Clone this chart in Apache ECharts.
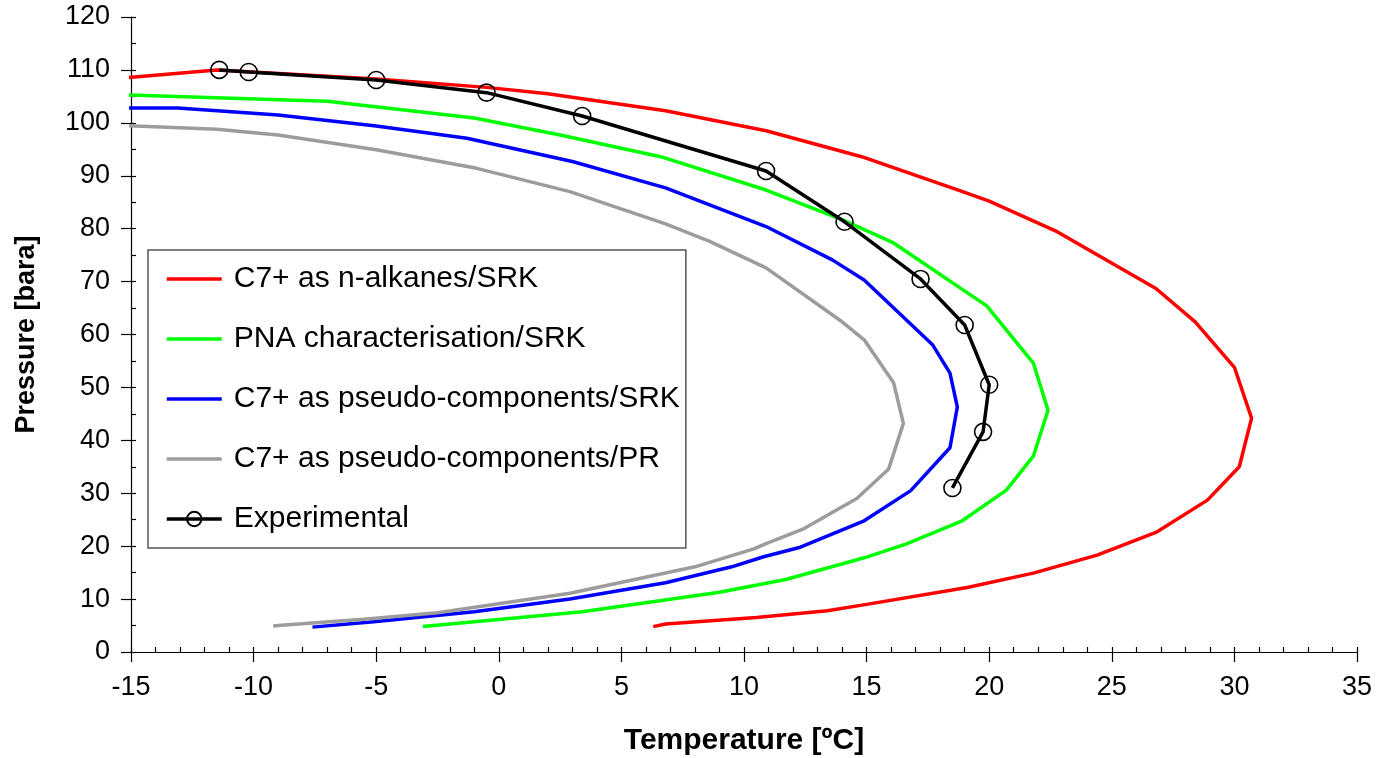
<!DOCTYPE html>
<html>
<head>
<meta charset="utf-8">
<script src="https://cdn.jsdelivr.net/npm/echarts@6/dist/echarts.min.js"></script>
<style>
  html, body { margin: 0; padding: 0; background: #fff; }
  #chart { width: 1380px; height: 758px; }
</style>
</head>
<body>
<div id="chart"></div>
<script>
// phase envelope, temperature [C] vs pressure [bara]
const seriesNames = [
  "C7+ as n-alkanes/SRK",
  "PNA characterisation/SRK",
  "C7+ as pseudo-components/SRK",
  "C7+ as pseudo-components/PR",
  "Experimental"
];

const alkanesSRK = [
  [-15.3, 108.5], [-11.5, 110], [-5, 108.3], [-0.5, 106.7], [2, 105.5], [6.8, 102.3],
  [10.9, 98.5], [14.8, 93.6], [18.8, 87.2], [20, 85.2], [22.7, 79.6], [26.8, 68.7],
  [28.4, 62.4], [30, 53.8], [30.7, 44.2], [30.2, 35], [28.9, 28.7], [26.8, 22.6],
  [24.4, 18.3], [21.8, 14.9], [19.1, 12.2], [15, 9.0], [13.4, 7.8], [10.5, 6.5],
  [6.8, 5.3], [6.3, 4.8]
];

const pnaSRK = [
  [-15.3, 105.3], [-7, 104.1], [-1, 100.9], [2.5, 97.7], [6.6, 93.6], [10.9, 87.3],
  [14, 81.7], [16.1, 77.3], [19.9, 65.4], [21.8, 54.6], [22.4, 45.7], [21.8, 37],
  [20.7, 30.6], [18.9, 24.8], [16.6, 20.4], [14.9, 17.8], [11.7, 13.7], [9, 11.3],
  [3.4, 7.6], [-1, 5.7], [-3.1, 4.8]
];

const pseudoSRK = [
  [-15.3, 102.8], [-13.1, 102.8], [-9, 101.5], [-5, 99.4], [-1.3, 97.1], [3, 92.7],
  [6.8, 87.7], [10.9, 80.4], [13.6, 74.1], [14.9, 70.3], [17.7, 58], [18.4, 52.7],
  [18.7, 46.3], [18.4, 38.6], [16.8, 30.5], [14.9, 24.8], [12.3, 19.8], [10.8, 18],
  [9.5, 16.1], [6.8, 13.1], [2.9, 10], [-1, 7.6], [-5.1, 5.7], [-7.6, 4.7]
];

const pseudoPR = [
  [-15.3, 99.5], [-11.5, 98.8], [-9, 97.7], [-5, 94.9], [-0.9, 91.4], [2.9, 87],
  [6.8, 80.9], [8.6, 77.6], [10.9, 72.6], [14, 62.4], [14.9, 59], [16.1, 50.9],
  [16.5, 43.2], [15.9, 34.6], [14.6, 29], [12.4, 23.2], [10.9, 20.5], [10.4, 19.5],
  [8, 16.1], [2.9, 11.1], [-2.5, 7.4], [-5.5, 6.2], [-9, 5.0], [-9.2, 4.9]
];

const experimental = [
  [-11.4, 110.0], [-10.2, 109.6], [-5.0, 108.1], [-0.5, 105.7], [3.4, 101.3],
  [10.9, 90.9], [14.1, 81.3], [17.2, 70.5], [19.0, 61.8], [20.0, 50.5],
  [19.75, 41.6], [18.5, 31.0]
];

const lineColors = ["#ff0000", "#00ff00", "#0000ff", "#9c9c9c", "#000000"];
const curves = [alkanesSRK, pnaSRK, pseudoSRK, pseudoPR];

const font = 'Arial, "Liberation Sans", sans-serif';

const chart = echarts.init(document.getElementById("chart"));

const calcSeries = curves.map((data, i) => ({
  name: seriesNames[i],
  type: "line",
  data: data,
  symbol: "none",
  clip: false,
  lineStyle: { color: lineColors[i], width: 3.5 },
  itemStyle: { color: lineColors[i] },
  z: 2 + i
}));

const expSeries = {
  name: seriesNames[4],
  type: "line",
  data: experimental,
  symbol: "circle",
  symbolSize: 17,
  showAllSymbol: true,
  lineStyle: { color: "#000", width: 3.5 },
  itemStyle: { color: "rgba(0,0,0,0)", borderColor: "#000", borderWidth: 1.6 },
  z: 10
};

// legend: plain line for calculated curves, line + circle for experimental
const legendData = seriesNames.map((name, i) =>
  i < 4 ? { name: name, itemStyle: { opacity: 0 } } : { name: name }
);

// second (overlay) axes draw the inner halves of the ticks
const xBase = { type: "value", min: -15, max: 35, interval: 5 };
const yBase = { type: "value", min: 0, max: 120, interval: 10 };
const tickLine = { color: "#000", width: 1.2 };

const option = {
  animation: false,
  backgroundColor: "#fff",
  textStyle: { fontFamily: font, color: "#000" },
  grid: { left: 131, right: 23, top: 17, bottom: 106, outerBoundsMode: "none", containLabel: false },
  legend: {
    orient: "vertical",
    left: 148,
    top: 250,
    data: legendData,
    itemWidth: 55,
    itemHeight: 18,
    itemGap: 30,
    padding: [14, 6, 14, 17],
    backgroundColor: "#fff",
    borderColor: "#555",
    borderWidth: 1.5,
    borderRadius: 0,
    lineStyle: { width: 3.5 },
    textStyle: { fontFamily: font, fontSize: 30, color: "#000", lineHeight: 30, padding: [0, 0, 0, 7] }
  },
  xAxis: [
    Object.assign({}, xBase, {
      name: "Temperature [ºC]",
      nameLocation: "middle",
      nameGap: 74,
      nameTextStyle: { fontFamily: font, fontSize: 30, fontWeight: "bold", color: "#000" },
      axisLine: { show: true, onZero: false, lineStyle: tickLine },
      axisTick: { show: true, inside: false, length: 10, lineStyle: tickLine },
      minorTick: { show: false },
      axisLabel: { fontFamily: font, fontSize: 27, color: "#000", margin: 22 },
      splitLine: { show: false }
    }),
    Object.assign({}, xBase, {
      position: "bottom",
      axisLine: { show: false, onZero: false },
      axisTick: { show: true, inside: true, length: 5, lineStyle: tickLine },
      minorTick: { show: true, splitNumber: 5, length: 5, lineStyle: tickLine },
      axisLabel: { show: false },
      splitLine: { show: false }
    })
  ],
  yAxis: [
    Object.assign({}, yBase, {
      name: "Pressure [bara]",
      nameLocation: "middle",
      nameGap: 91,
      nameTextStyle: { fontFamily: font, fontSize: 27, fontWeight: "bold", color: "#000" },
      axisLine: { show: true, onZero: false, lineStyle: tickLine },
      axisTick: { show: true, inside: false, length: 10, lineStyle: tickLine },
      minorTick: { show: false },
      axisLabel: { fontFamily: font, fontSize: 27, color: "#000", margin: 21 },
      splitLine: { show: false }
    }),
    Object.assign({}, yBase, {
      position: "left",
      axisLine: { show: false, onZero: false },
      axisTick: { show: true, inside: true, length: 5, lineStyle: tickLine },
      minorTick: { show: true, splitNumber: 2, length: 5, lineStyle: tickLine },
      axisLabel: { show: false },
      splitLine: { show: false }
    })
  ],
  series: calcSeries.concat([expSeries])
};

chart.setOption(option);
</script>
</body>
</html>
